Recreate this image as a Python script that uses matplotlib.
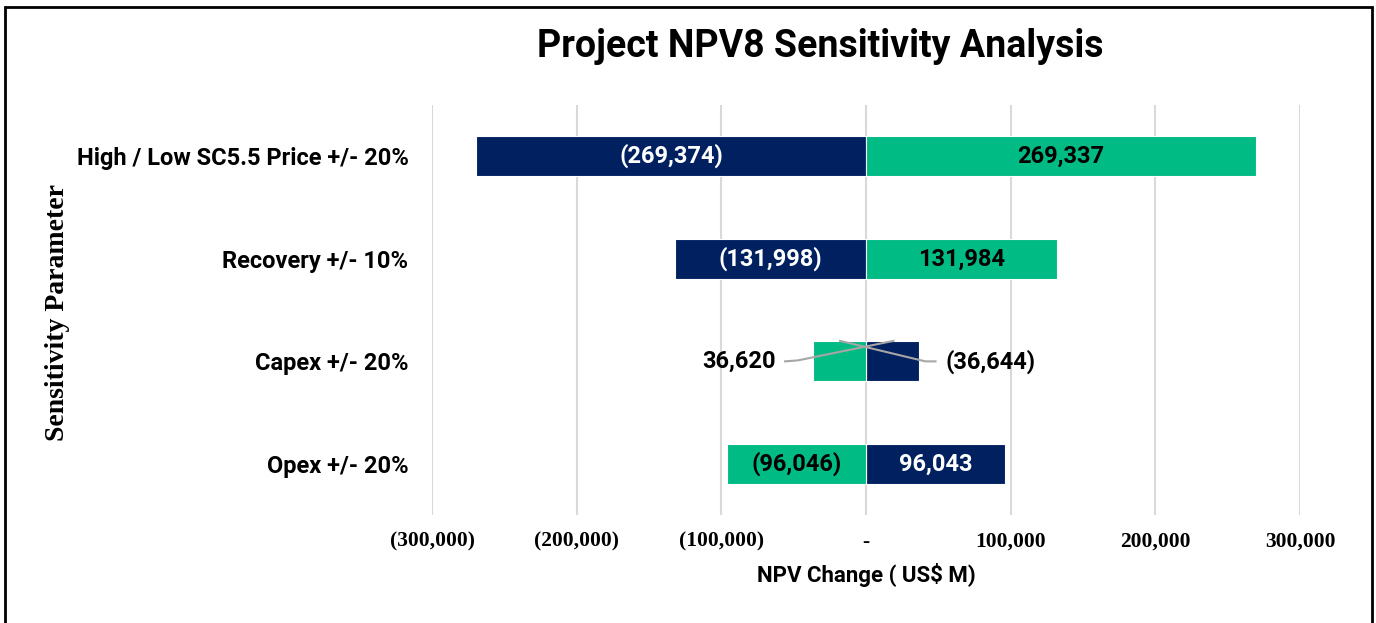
import numpy as np
import matplotlib
matplotlib.use("Agg")
import matplotlib.pyplot as plt
from matplotlib.patches import Rectangle

params = ["High / Low SC5.5 Price +/- 20%", "Recovery +/- 10%", "Capex +/- 20%", "Opex +/- 20%"]
navy_vals = [-269374, -131998, 36644, 96043]
green_vals = [269337, 131984, -36620, -96046]
navy_labels = ["(269,374)", "(131,998)", "(36,644)", "96,043"]
green_labels = ["269,337", "131,984", "36,620", "(96,046)"]
xticks = [-300000, -200000, -100000, 0, 100000, 200000, 300000]
xtick_labels = ["(300,000)", "(200,000)", "(100,000)", "-", "100,000", "200,000", "300,000"]

navy = "#002060"
green = "#00BB84"
sans = "Roboto"
serif = "Liberation Serif"

fig = plt.figure(figsize=(13.76, 6.23), dpi=100)
ax = fig.add_axes([0.314, 0.173, 0.6308, 0.6585])

y = np.arange(len(params))
ax.barh(y, navy_vals, height=0.39, color=navy, edgecolor="white", linewidth=0.8, zorder=3)
ax.barh(y, green_vals, height=0.39, color=green, edgecolor="white", linewidth=0.8, zorder=3)

ax.set_xlim(-300000, 300000)
ax.set_ylim(3.5, -0.5)
ax.set_xticks(xticks)
ax.set_xticklabels(xtick_labels, fontfamily=serif, fontweight="bold", fontsize=15.5)
ax.set_yticks(y)
ax.set_yticklabels(params, fontfamily=sans, fontweight="bold", fontsize=17)
ax.tick_params(axis="x", length=0, pad=12)
ax.tick_params(axis="y", length=0, pad=17)
ax.grid(axis="x", color="#d9d9d9", linewidth=1.5, zorder=0)
for s in ax.spines.values():
    s.set_visible(False)

lab_fs = 17
# labels inside bars for the big ones, outside with leaders for capex
for i in range(len(params)):
    nv, gv = navy_vals[i], green_vals[i]
    if abs(nv) > 60000:
        ax.text(nv / 2, i, navy_labels[i], ha="center", va="center", color="white",
                fontfamily=sans, fontweight="bold", fontsize=lab_fs, zorder=4)
        ax.text(gv / 2, i, green_labels[i], ha="center", va="center", color="black",
                fontfamily=sans, fontweight="bold", fontsize=lab_fs, zorder=4)
    else:
        # green label on the left, navy label on the right, crossing leaders
        ax.plot([-56000, -47000, 19000], [i, i - 0.01, i - 0.2], color="#a6a6a6", lw=1.5, zorder=5)
        ax.plot([48000, 41000, -18000], [i, i, i - 0.2], color="#a6a6a6", lw=1.5, zorder=5)
        ax.text(-62000, i, green_labels[i], ha="right", va="center", color="black",
                fontfamily=sans, fontweight="bold", fontsize=lab_fs, zorder=4)
        ax.text(55000, i, navy_labels[i], ha="left", va="center", color="black",
                fontfamily=sans, fontweight="bold", fontsize=lab_fs, zorder=4)

ax.set_xlabel("NPV Change ( US$ M)", fontfamily=sans, fontweight="bold", fontsize=16, labelpad=8)
fig.text(0.042, 0.498, "Sensitivity Parameter", rotation=90, ha="center", va="center",
         fontfamily=serif, fontweight="bold", fontsize=20)
fig.text(0.596, 0.925, "Project NPV8 Sensitivity Analysis", ha="center", va="center",
         fontfamily=sans, fontweight="bold", fontsize=27)

fig.patches.append(Rectangle((5 / 1376, -0.02), 1367 / 1376, 1 - 7 / 623 + 0.02,
                             transform=fig.transFigure, fill=False, edgecolor="black",
                             linewidth=2))

fig.savefig("out.png", dpi=100)
